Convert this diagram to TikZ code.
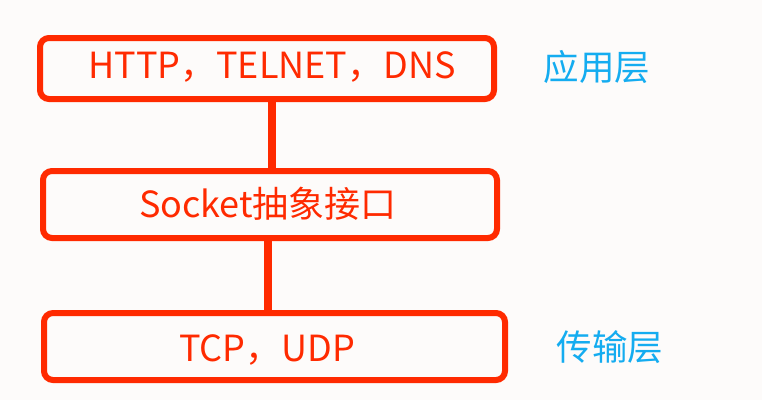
\documentclass[tikz,border=0pt]{standalone}
\usepackage{fontspec}
\setmainfont{Noto Sans CJK SC}
\definecolor{boxred}{HTML}{FF2A00}
\definecolor{layerblue}{HTML}{14ACF0}
\definecolor{bg}{HTML}{FDFBFA}
\begin{document}
\begin{tikzpicture}[x=1pt,y=-1pt,
  layerbox/.style={draw=boxred,line width=6pt,rounded corners=9pt,fill=bg,inner sep=0pt},
  boxtext/.style={text=boxred,font=\fontsize{36}{38}\selectfont,inner sep=0pt},
  layerlabel/.style={text=layerblue,font=\fontsize{35.5}{38}\selectfont,inner sep=0pt},
  link/.style={draw=boxred,line width=8pt}]
\fill[bg] (0,0) rectangle (762,400);
\useasboundingbox (0,0) rectangle (762,400);
\node[layerbox,minimum width=454pt,minimum height=61pt] (b1) at (267,68.5) {};
\node[layerbox,minimum width=454pt,minimum height=67pt] (b2) at (270,204.5) {};
\node[layerbox,minimum width=461pt,minimum height=67pt] (b3) at (274.5,346.5) {};
\draw[link] ([xshift=5pt]b1.south) -- ([xshift=2pt]b2.north);
\draw[link] ([xshift=-2pt]b2.south) -- ([xshift=-6.5pt]b3.north);
\node[boxtext] (t1) at (272,67) {HTTP，TELNET，DNS};
\node[boxtext] (t2) at (268,204) {Socket抽象接口};
\node[boxtext] (t3) at (267,350) {TCP，UDP};
\node[layerlabel] (l1) at (597,67) {应用层};
\node[layerlabel] (l2) at (610,347) {传输层};
\end{tikzpicture}
\end{document}
